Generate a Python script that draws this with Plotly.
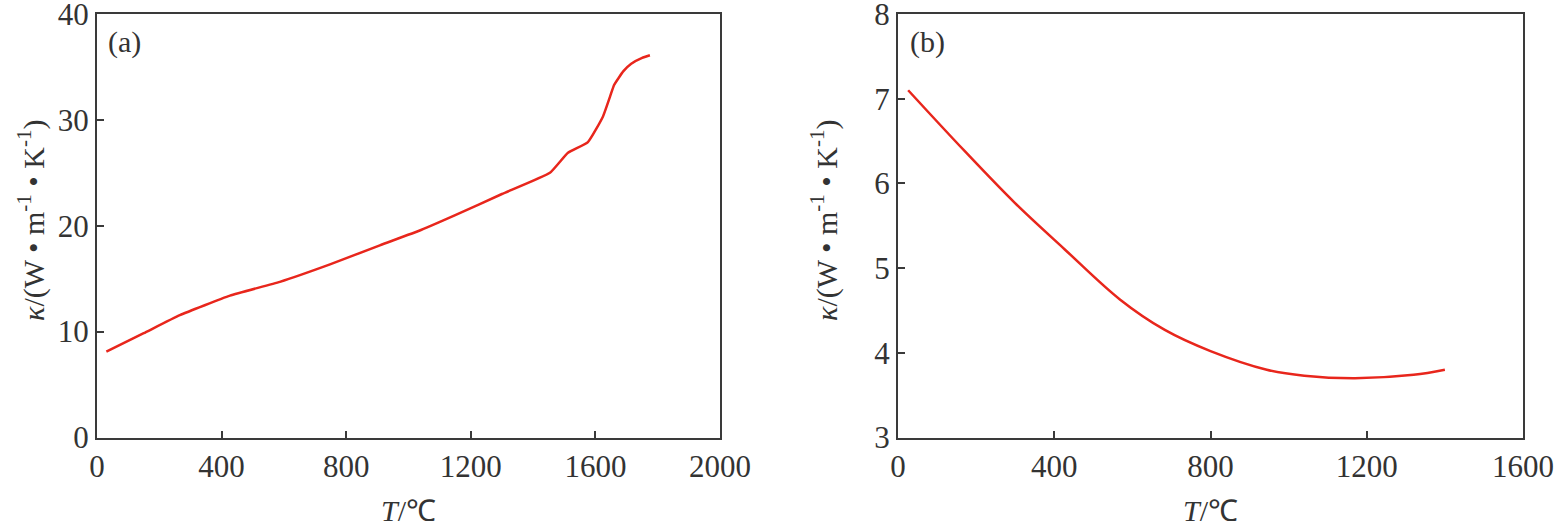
import plotly.graph_objects as go

# (a) thermal conductivity vs temperature
temp_a = [30, 150, 266, 427, 587, 748, 908, 1040, 1150, 1300, 1454, 1512, 1576, 1624, 1647, 1660, 1690, 1715, 1750, 1775]
kappa_a = [8.1, 9.85, 11.55, 13.4, 14.7, 16.35, 18.15, 19.6, 21.0, 23.0, 25.0, 26.9, 27.9, 30.3, 32.2, 33.3, 34.6, 35.3, 35.85, 36.1]

# (b)
temp_b = [26, 171, 299, 427, 568, 683, 800, 944, 1040, 1170, 1320, 1400]
kappa_b = [7.10, 6.38, 5.77, 5.22, 4.63, 4.27, 4.02, 3.80, 3.73, 3.70, 3.74, 3.80]

ticks_xa = [0, 400, 800, 1200, 1600, 2000]
ticks_ya = [0, 10, 20, 30, 40]
ticks_xb = [0, 400, 800, 1200, 1600]
ticks_yb = [3, 4, 5, 6, 7, 8]

W, H = 1558, 521


def px(x):
    return x / W


def py(y):
    return 1 - y / H


font = "Liberation Serif"
red = "#e8261c"
axcol = "#3a3a3a"

fig = go.Figure()
fig.add_trace(go.Scatter(x=temp_a, y=kappa_a, mode="lines",
                         line=dict(color=red, width=2.5, shape="spline", smoothing=0.4),
                         xaxis="x", yaxis="y", showlegend=False))
fig.add_trace(go.Scatter(x=temp_b, y=kappa_b, mode="lines", line=dict(color=red, width=2.5, shape="spline"),
                         xaxis="x2", yaxis="y2", showlegend=False))

ydom = [py(437.5), py(14)]
common = dict(showline=True, linecolor=axcol, linewidth=2, mirror=True, ticks="inside",
              ticklen=7, tickwidth=1.5, tickcolor=axcol, showgrid=False, zeroline=False,
              ticklabeloverflow="allow", automargin=False,
              tickfont=dict(family=font, size=31, color="#333333"))

fig.update_layout(
    width=W, height=H,
    margin=dict(l=0, r=0, t=0, b=0),
    paper_bgcolor="white", plot_bgcolor="white",
    xaxis=dict(domain=[px(97), px(720)], range=[0, 2000], tickvals=ticks_xa, anchor="y", **common),
    yaxis=dict(domain=ydom, range=[0, 40], tickvals=ticks_ya, anchor="x", **common),
    xaxis2=dict(domain=[px(898), px(1523)], range=[0, 1600], tickvals=ticks_xb, anchor="y2", **common),
    yaxis2=dict(domain=ydom, range=[3, 8], tickvals=ticks_yb, anchor="x2", **common),
)

ytitle = "<i>κ</i>/(W • m<sup>-1</sup> • K<sup>-1</sup>)"
xtitle = "<i>T</i>/℃"
tf = dict(family=font, size=30, color="#333333")
for xc, yx, lab, lx in [(408.5, 32, "(a)", 106), (1210.5, 825, "(b)", 908)]:
    fig.add_annotation(x=px(xc), y=py(492), xref="paper", yref="paper", text=xtitle,
                       showarrow=False, font=tf, xanchor="center", yanchor="top")
    fig.add_annotation(x=px(yx), y=py(220), xref="paper", yref="paper", text=ytitle,
                       showarrow=False, font=tf, textangle=-90, xanchor="center", yanchor="middle")
    fig.add_annotation(x=px(lx), y=py(42), xref="paper", yref="paper", text=lab,
                       showarrow=False, font=tf, xanchor="left", yanchor="middle")

# drop the default body margin so the figure sits at the window corner
fig.write_html("out.html", config={"displayModeBar": False},
               post_script="document.body.style.margin='0';")
